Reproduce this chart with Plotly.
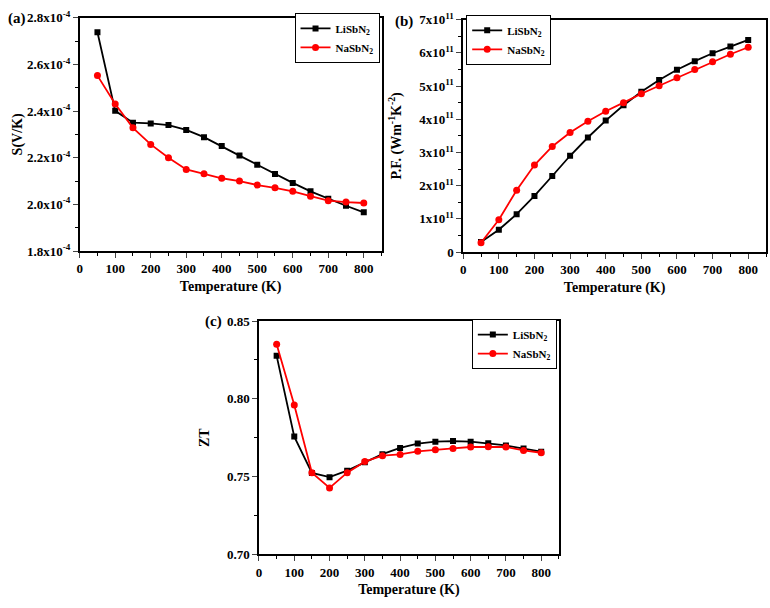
import plotly.graph_objects as go

T = [50, 100, 150, 200, 250, 300, 350, 400, 450, 500, 550, 600, 650, 700, 750, 800]

# (a) Seebeck coefficient (x1e-4 V/K)
S_li = [2.738, 2.401, 2.350, 2.347, 2.340, 2.319, 2.288, 2.250, 2.209, 2.170, 2.130, 2.092, 2.056, 2.024, 1.994, 1.966]
S_na = [2.552, 2.430, 2.328, 2.257, 2.200, 2.150, 2.131, 2.112, 2.100, 2.083, 2.071, 2.056, 2.035, 2.016, 2.010, 2.006]

# (b) Power factor (x1e11)
PF_li = [0.30, 0.67, 1.14, 1.69, 2.29, 2.90, 3.45, 3.96, 4.42, 4.83, 5.18, 5.49, 5.75, 5.99, 6.19, 6.39]
PF_na = [0.28, 0.97, 1.86, 2.62, 3.18, 3.60, 3.94, 4.24, 4.50, 4.77, 5.01, 5.25, 5.50, 5.73, 5.96, 6.17]

# (c) ZT
ZT_li = [0.8276, 0.7757, 0.7523, 0.7496, 0.7538, 0.7592, 0.7644, 0.7684, 0.7712, 0.7724, 0.7728, 0.7724, 0.7714, 0.7700, 0.7680, 0.7660]
ZT_na = [0.8350, 0.7960, 0.7525, 0.7427, 0.7525, 0.7596, 0.7634, 0.7642, 0.7662, 0.7673, 0.7681, 0.7690, 0.7692, 0.7690, 0.7668, 0.7653]

x_ticks = [0, 100, 200, 300, 400, 500, 600, 700, 800]
a_ticks = [1.8e-4, 2.0e-4, 2.2e-4, 2.4e-4, 2.6e-4, 2.8e-4]
a_text = ["1.8x10<sup>-4</sup>", "2.0x10<sup>-4</sup>", "2.2x10<sup>-4</sup>",
          "2.4x10<sup>-4</sup>", "2.6x10<sup>-4</sup>", "2.8x10<sup>-4</sup>"]
b_ticks = [0, 1e11, 2e11, 3e11, 4e11, 5e11, 6e11, 7e11]
b_text = ["0", "1x10<sup>11</sup>", "2x10<sup>11</sup>", "3x10<sup>11</sup>",
          "4x10<sup>11</sup>", "5x10<sup>11</sup>", "6x10<sup>11</sup>", "7x10<sup>11</sup>"]
c_ticks = [0.70, 0.75, 0.80, 0.85]
c_text = ["0.70", "0.75", "0.80", "0.85"]

FONT = "Liberation Serif"
BLACK = "#000000"
RED = "#ff0000"

fig = go.Figure()

def add_pair(xa, ya, yli, yna, scale, legend):
    fig.add_trace(go.Scatter(x=T, y=[v * scale for v in yli], mode="lines+markers",
                             name="LiSbN<sub>2</sub>", xaxis=xa, yaxis=ya, legend=legend,
                             line=dict(color=BLACK, width=1.8),
                             marker=dict(symbol="square", size=6, color=BLACK)))
    fig.add_trace(go.Scatter(x=T, y=[v * scale for v in yna], mode="lines+markers",
                             name="NaSbN<sub>2</sub>", xaxis=xa, yaxis=ya, legend=legend,
                             line=dict(color=RED, width=1.8),
                             marker=dict(symbol="circle", size=7, color=RED)))

add_pair("x", "y", S_li, S_na, 1e-4, "legend")
add_pair("x2", "y2", PF_li, PF_na, 1e11, "legend2")
add_pair("x3", "y3", ZT_li, ZT_na, 1, "legend3")

W, H = 770, 608
def dx(p): return p / W
def dy(p): return 1 - p / H

tickfont = dict(family=FONT, size=13, color=BLACK, weight="bold")
titlefont = dict(family=FONT, size=14, color=BLACK, weight="bold")

def xaxis(domain, anchor):
    return dict(domain=domain, anchor=anchor, range=[0, 850], tickvals=x_ticks,
                ticks="outside", ticklen=5, tickwidth=1.2, showline=True, linewidth=1.5,
                linecolor=BLACK, mirror=True, showgrid=False, zeroline=False,
                tickfont=tickfont, title=dict(text="Temperature (K)", font=titlefont, standoff=6),
                minor=dict(ticks="outside", ticklen=3, dtick=50, tick0=0, tickcolor=BLACK, showgrid=False))

def yaxis(domain, anchor, rng, tv, tt, title, minor_dtick, minor_tick0, standoff):
    return dict(domain=domain, anchor=anchor, range=rng, tickvals=tv,
                ticktext=tt,
                ticks="outside", ticklen=5, tickwidth=1.2, showline=True, linewidth=1.5,
                linecolor=BLACK, mirror=True, showgrid=False, zeroline=False,
                tickfont=tickfont, title=dict(text=title, font=titlefont, standoff=standoff),
                minor=dict(ticks="outside", ticklen=3, dtick=minor_dtick, tick0=minor_tick0,
                           tickcolor=BLACK, showgrid=False))

legend_common = dict(bgcolor="white", bordercolor=BLACK, borderwidth=1,
                     font=dict(family=FONT, size=11, color=BLACK, weight="bold"),
                     tracegroupgap=0, itemwidth=30)

fig.update_layout(
    width=W, height=H, margin=dict(l=0, r=0, t=0, b=0),
    paper_bgcolor="white", plot_bgcolor="white",
    font=dict(family=FONT, color=BLACK),
    xaxis=xaxis([dx(77), dx(380)], "y"),
    yaxis=yaxis([dy(249), dy(9)], "x", [1.8e-4, 2.8e-4], a_ticks, a_text, "S(V/K)", 0.1e-4, 1.8e-4, 1),
    xaxis2=xaxis([dx(462), dx(766)], "y2"),
    yaxis2=yaxis([dy(250), dy(11)], "x2", [0, 7e11], b_ticks, b_text,
                 "P.F. (Wm<sup>-1</sup>K<sup>-2</sup>)", 0.5e11, 0, 14),
    xaxis3=xaxis([dx(257), dx(558)], "y3"),
    yaxis3=yaxis([dy(561), dy(321)], "x3", [0.70, 0.85], c_ticks, c_text, "ZT", 0.025, 0.70, 14),
    legend=dict(x=dx(378), y=dy(4), xanchor="right", yanchor="top", **legend_common),
    legend2=dict(x=dx(465), y=dy(6), xanchor="left", yanchor="top", **legend_common),
    legend3=dict(x=dx(556), y=dy(319), xanchor="right", yanchor="top", **legend_common),
    showlegend=True,
)

for txt, px, py in [("(a)", 3, 10), ("(b)", 392, 13), ("(c)", 201, 322)]:
    fig.add_annotation(text=txt, x=dx(px), y=dy(py), xref="paper", yref="paper",
                       xanchor="left", yanchor="middle", showarrow=False,
                       font=dict(family=FONT, size=15, color=BLACK, weight="bold"))

fig.write_html("out.html")
